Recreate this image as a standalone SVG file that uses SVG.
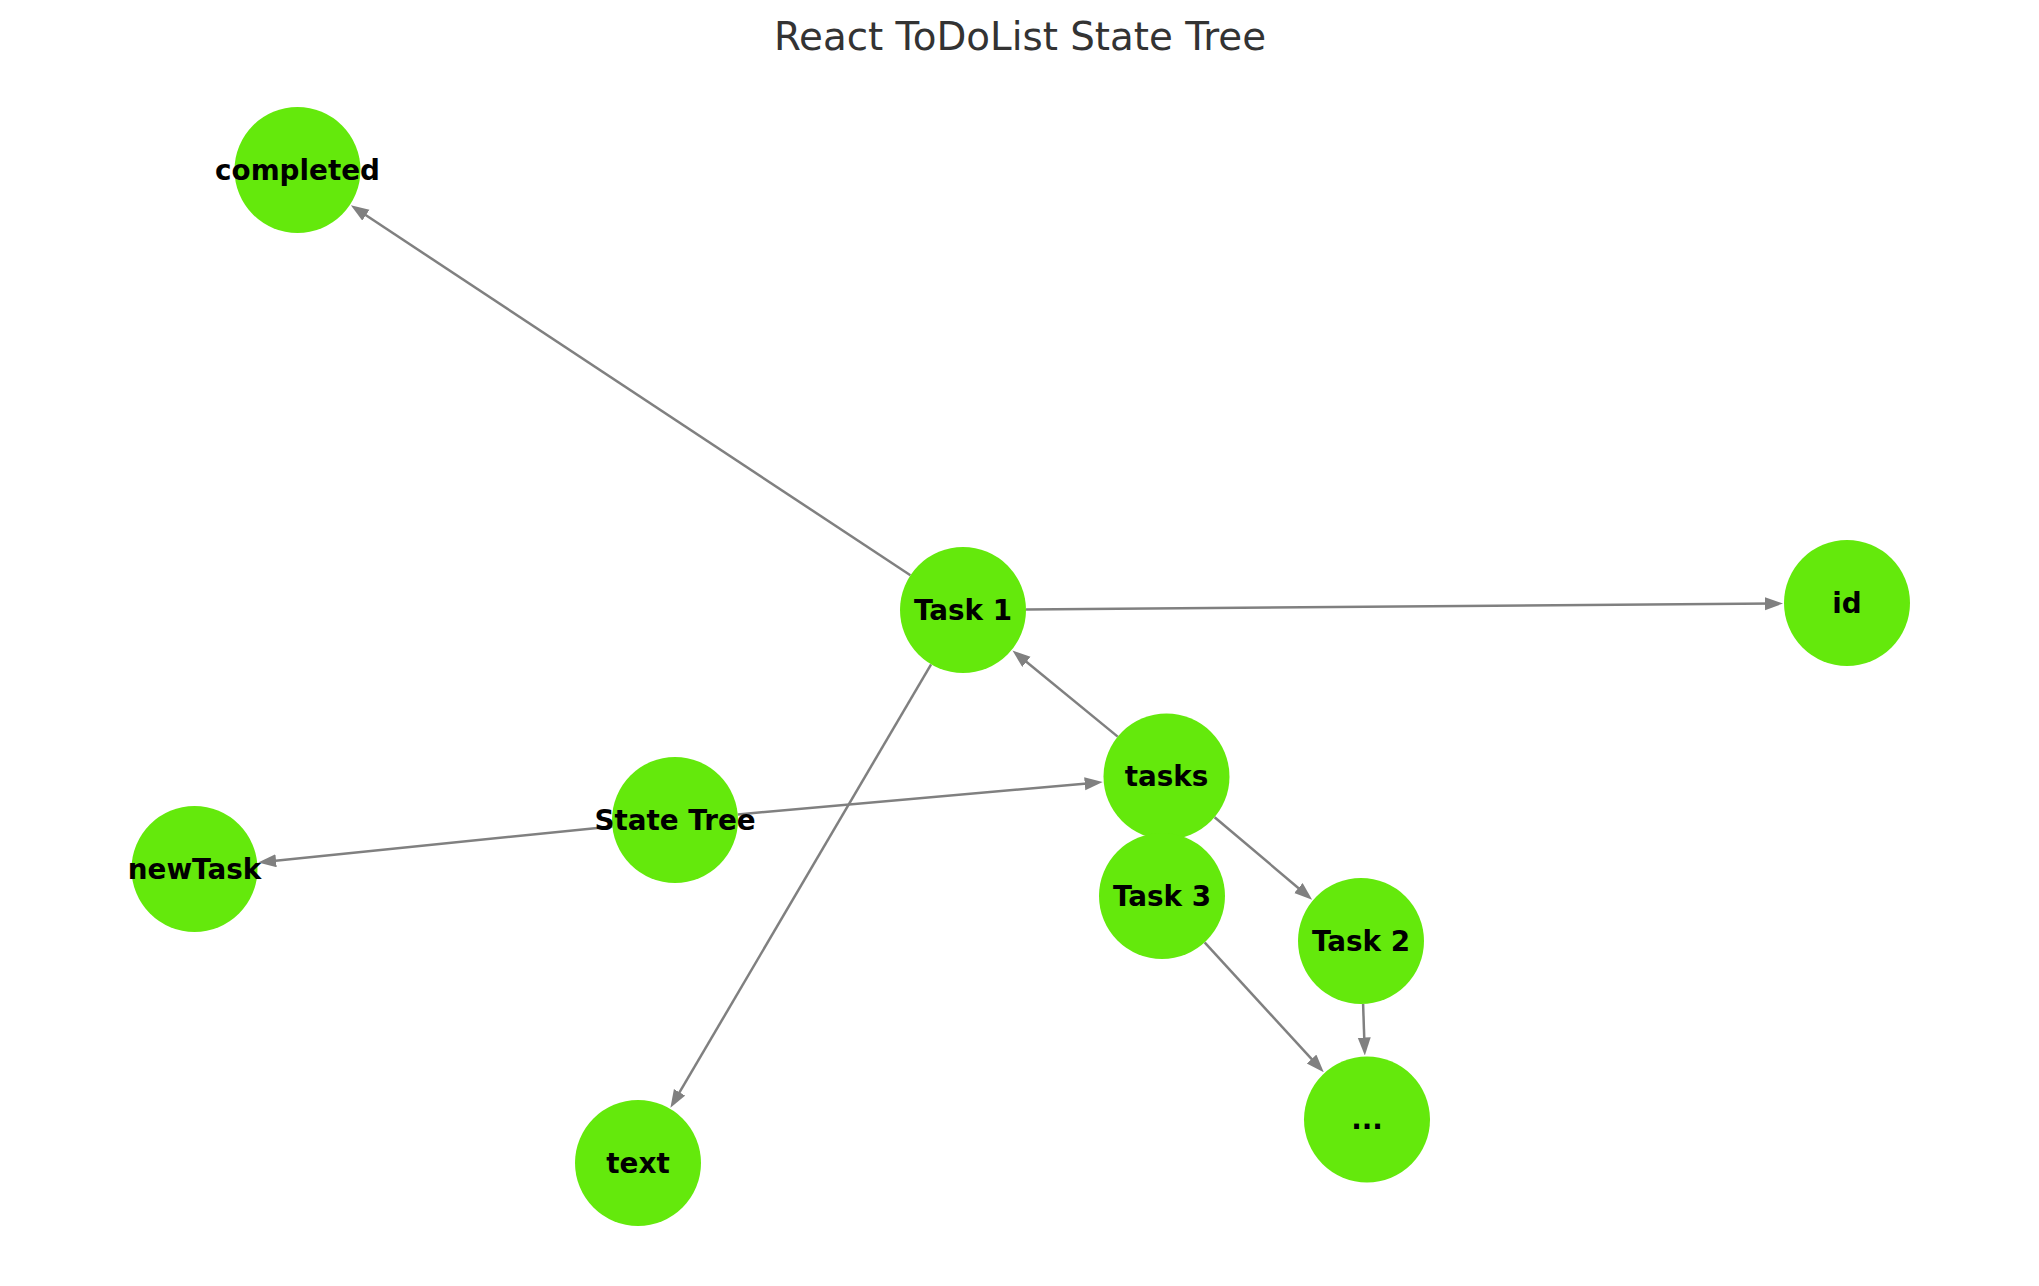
<svg xmlns="http://www.w3.org/2000/svg" width="2039" height="1286" viewBox="0 0 2039 1286">
<style>
.edge{stroke:#808080;stroke-width:2.5;fill:none;marker-end:url(#arr)}
.node{fill:#64e90c}
.lbl{font-family:"DejaVu Sans","Liberation Sans",sans-serif;font-weight:bold;font-size:27.8px;fill:#000;text-anchor:middle}
.title{font-family:"DejaVu Sans","Liberation Sans",sans-serif;font-size:38.8px;fill:#333;text-anchor:middle}
</style>
<defs>
<marker id="arr" markerUnits="userSpaceOnUse" markerWidth="18" markerHeight="14" refX="8" refY="6.5" orient="auto">
<path d="M0,0 L18,6.5 L0,13 z" fill="#808080"/>
</marker>
</defs>
<rect width="2039" height="1286" fill="#fff"/>
<text class="title" x="1020" y="50">React ToDoList State Tree</text>
<g id="edges">
<line class="edge" x1="910.4" y1="575.3" x2="359.2" y2="210.8"/>
<line class="edge" x1="1026" y1="609.5" x2="1773" y2="603.6"/>
<line class="edge" x1="931.1" y1="664.3" x2="675.5" y2="1099.2"/>
<line class="edge" x1="1117.7" y1="736.6" x2="1020.2" y2="656.8"/>
<line class="edge" x1="737.8" y1="814.4" x2="1092.7" y2="783.0"/>
<line class="edge" x1="612.3" y1="826.4" x2="268.1" y2="861.5"/>
<line class="edge" x1="1214.6" y1="817.2" x2="1304.5" y2="893.2"/>
<line class="edge" x1="1363.1" y1="1004" x2="1364.5" y2="1045.5"/>
<line class="edge" x1="1204.6" y1="942.4" x2="1317.0" y2="1064.9"/>
</g>
<g id="node-completed"><circle class="node" cx="297.5" cy="170" r="63"/></g>
<g id="node-task1"><circle class="node" cx="963" cy="610" r="63"/></g>
<g id="node-id"><circle class="node" cx="1847" cy="603" r="63"/></g>
<g id="node-tasks"><circle class="node" cx="1166.5" cy="776.5" r="63"/></g>
<g id="node-statetree"><circle class="node" cx="675" cy="820" r="63"/></g>
<g id="node-newtask"><circle class="node" cx="194.5" cy="869" r="63"/></g>
<g id="node-task3"><circle class="node" cx="1162" cy="896" r="63"/></g>
<g id="node-task2"><circle class="node" cx="1361" cy="941" r="63"/></g>
<g id="node-dots"><circle class="node" cx="1367" cy="1119.5" r="63"/></g>
<g id="node-text"><circle class="node" cx="638" cy="1163" r="63"/></g>
<g id="labels">
<text class="lbl" x="297.5" y="179.5">completed</text>
<text class="lbl" x="963" y="619.5">Task 1</text>
<text class="lbl" x="1847" y="612.5">id</text>
<text class="lbl" x="1166.5" y="786">tasks</text>
<text class="lbl" x="675" y="829.5">State Tree</text>
<text class="lbl" x="194.5" y="878.5">newTask</text>
<text class="lbl" x="1162" y="905.5">Task 3</text>
<text class="lbl" x="1361" y="950.5">Task 2</text>
<text class="lbl" x="1367" y="1129">...</text>
<text class="lbl" x="638" y="1172.5">text</text>
</g>
</svg>
